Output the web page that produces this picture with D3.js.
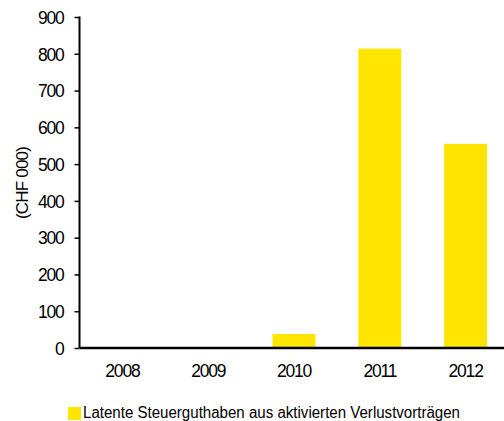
<!DOCTYPE html>
<html>
<head>
<meta charset="utf-8">
<script src="https://cdn.jsdelivr.net/npm/d3@7/dist/d3.min.js"></script>
<style>
  html, body { margin: 0; padding: 0; background: #fff; }
  svg { display: block; font-family: "Liberation Sans", Arial, sans-serif; }
</style>
</head>
<body>
<svg id="chart" width="504" height="421"></svg>
<script>
// Deferred tax assets from capitalised loss carry-forwards, CHF 000
const years = ["2008", "2009", "2010", "2011", "2012"];
const values = [0, 0, 38, 814, 555];
const yTicks = [0, 100, 200, 300, 400, 500, 600, 700, 800, 900];
const seriesName = "Latente Steuerguthaben aus aktivierten Verlustvorträgen";
const yTitle = "(CHF 000)";

const svg = d3.select("#chart");
const barColor = "#FFE500";

const x = d3.scaleBand().domain(years).range([79.5, 508.5]).paddingInner(0.5).paddingOuter(0.25);
const y = d3.scaleLinear().domain([0, 900]).range([348, 17]);

// bars
svg.append("g").selectAll("rect")
  .data(years.map((yr, i) => ({ yr, v: values[i] })).filter(d => d.v > 0))
  .join("rect")
  .attr("x", d => x(d.yr))
  .attr("width", x.bandwidth())
  .attr("y", d => y(d.v))
  .attr("height", d => y(0) - y(d.v))
  .attr("fill", barColor);

// y axis
const yAxis = svg.append("g")
  .attr("transform", "translate(79.5,0)")
  .call(d3.axisLeft(y).tickValues(yTicks).tickSize(5).tickPadding(11).tickSizeOuter(0));
yAxis.select(".domain").attr("stroke", "#000").attr("stroke-width", 2).attr("d", `M0,${y(900) - 0.5}V${y(0)}`);
yAxis.selectAll(".tick line").attr("stroke", "#000").attr("stroke-width", 1.5);
yAxis.selectAll(".tick text")
  .attr("fill", "#000")
  .style("font-size", "17.5px")
  .style("letter-spacing", "-1.2px")
  .attr("dy", "0.36em");

// x axis
const xAxis = svg.append("g")
  .attr("transform", `translate(0,${y(0)})`)
  .call(d3.axisBottom(x).tickSize(0).tickPadding(17));
xAxis.select(".domain").attr("stroke", "#000").attr("stroke-width", 2.5).attr("d", "M79.5,0H504");
xAxis.selectAll(".tick text")
  .attr("fill", "#000")
  .style("font-size", "17.5px")
  .style("letter-spacing", "-1.2px")
  .attr("dy", "0.71em");

// y axis title
svg.append("text")
  .attr("transform", "translate(28,183) rotate(-90)")
  .attr("text-anchor", "middle")
  .style("font-size", "17px")
  .style("letter-spacing", "-0.8px")
  .attr("fill", "#000")
  .text(yTitle);

// legend
const legend = svg.append("g").attr("transform", "translate(68,407)");
legend.append("rect").attr("width", 13).attr("height", 13).attr("fill", barColor);
legend.append("text")
  .attr("x", 15)
  .attr("y", 11)
  .attr("fill", "#000")
  .style("font-size", "16px")
  .attr("textLength", 377)
  .attr("lengthAdjust", "spacingAndGlyphs")
  .text(seriesName);
</script>
</body>
</html>
